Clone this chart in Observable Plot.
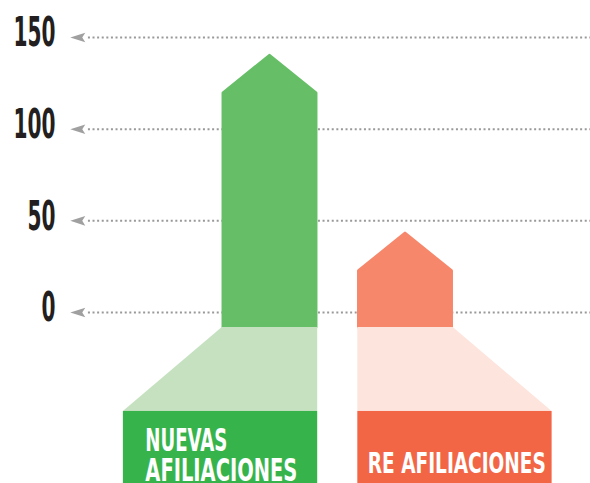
<!DOCTYPE html>
<html><head><meta charset="utf-8">
<script src="https://cdn.jsdelivr.net/npm/d3@7"></script>
<script src="https://cdn.jsdelivr.net/npm/@observablehq/plot@0.6"></script>
<style>body{margin:0;background:#fff}#chart svg{display:block}</style>
</head><body>
<div id="chart"></div>
<script>
// ---- data ----
const categories = ["NUEVAS\nAFILIACIONES", "RE AFILIACIONES"];
const values = [140, 43];
const yTicks = [0, 50, 100, 150];

// ---- styles ----
const barColors = ["#66be67", "#f7876b"];
const funnelColors = ["#c5e1c0", "#fde4dd"];
const boxColors = ["#36b44b", "#f26646"];
const flareDir = [-1, 1];
const FONT = "'Liberation Sans Narrow','DejaVu Sans Condensed','DejaVu Sans',sans-serif";

// ---- layout (x in category slots, y in value units) ----
const L = {
  half: 0.343, funnelHalf: 0.352, head: 20.5,
  barBase: -8.2, funnelBase: -54, boxBase: -93.3, flare: 0.73,
  axisX: -1.583, arrowX: -1.415, ruleX1: -1.34, ruleX2: 2.37,
  labelBaseline: [-92, -87.3], labelSize: [32, 28], labelPad: [0.162, 0.074],
  textWidth: {"NUEVAS": 82, "AFILIACIONES": 152, "RE AFILIACIONES": 178, "150": 42}
};

const rows = categories.map((c, i) => ({cat: c, i, value: values[i]}));

const boxLeft = i => i - L.funnelHalf + (flareDir[i] < 0 ? -L.flare : 0);
const boxRight = i => i + L.funnelHalf + (flareDir[i] > 0 ? L.flare : 0);

const barPts = rows.flatMap(r => [
  {i: r.i, x: r.i - L.half, y1: L.barBase, y2: r.value - L.head},
  {i: r.i, x: r.i, y1: L.barBase, y2: r.value},
  {i: r.i, x: r.i + L.half, y1: L.barBase, y2: r.value - L.head}
]);
const funnelPts = rows.flatMap(r => [
  {i: r.i, y: L.barBase, x1: r.i - L.funnelHalf, x2: r.i + L.funnelHalf},
  {i: r.i, y: L.funnelBase, x1: boxLeft(r.i), x2: boxRight(r.i)}
]);
const boxes = rows.map(r => ({i: r.i, x1: boxLeft(r.i), x2: boxRight(r.i)}));

const arrowSymbol = {
  draw(ctx) {
    ctx.moveTo(-8, 0);
    ctx.lineTo(7, -4.8);
    ctx.lineTo(4, 0);
    ctx.lineTo(7, 4.8);
    ctx.closePath();
  }
};

const chart = Plot.plot({
  width: 590, height: 483, margin: 0,
  x: {domain: [-269.5 / 135.5, 320.5 / 135.5], axis: null},
  y: {domain: [-93.3, 170.2], axis: null},
  marks: [
    Plot.ruleY(yTicks, {y: d => d, x1: L.ruleX1, x2: L.ruleX2, stroke: "#999999", strokeWidth: 2, strokeDasharray: "2,2.6"}),
    Plot.dot(yTicks, {y: d => d, x: L.arrowX, symbol: arrowSymbol, fill: "#a0a0a0", stroke: "none"}),
    Plot.text(yTicks, {y: d => d, x: L.axisX, text: d => String(d), textAnchor: "end", lineAnchor: "middle", dy: -4,
      fontSize: 40, fontWeight: "bold", fontFamily: FONT, fill: "#231f20"}),
    Plot.areaY(barPts, {x: "x", y1: "y1", y2: "y2", z: "i", fill: d => barColors[d.i], stroke: d => barColors[d.i],
      strokeWidth: 3, strokeLinejoin: "round", curve: "linear"}),
    Plot.areaX(funnelPts, {y: "y", x1: "x1", x2: "x2", z: "i", fill: d => funnelColors[d.i], curve: "linear"}),
    Plot.rect(boxes, {x1: "x1", x2: "x2", y1: L.funnelBase, y2: L.boxBase, fill: d => boxColors[d.i]}),
    Plot.text(rows, {x: d => boxLeft(d.i) + L.labelPad[d.i], y: d => L.labelBaseline[d.i], text: "cat",
      textAnchor: "start", lineAnchor: "bottom", lineHeight: 0.94, fontSize: d => L.labelSize[d.i],
      fontWeight: "bold", fontFamily: FONT, fill: "white"})
  ]
});
document.getElementById("chart").append(chart);

// condense text horizontally to mimic the narrow display face
function parts(t) { const s = t.querySelectorAll("tspan"); return s.length ? [...s] : [t]; }
function squeeze(p, k) {
  const w = p.getComputedTextLength();
  p.setAttribute("textLength", w * k);
  p.setAttribute("lengthAdjust", "spacingAndGlyphs");
}
const allTexts = [...chart.querySelectorAll("text")];
const tickTexts = allTexts.filter(t => yTicks.map(String).includes(t.textContent.trim()));
const catTexts = allTexts.filter(t => !tickTexts.includes(t));
const t150 = tickTexts.find(t => t.textContent.trim() === "150");
const ka = t150 ? L.textWidth["150"] / t150.getComputedTextLength() : 0.6;
tickTexts.forEach(t => squeeze(t, ka));
catTexts.forEach(t => parts(t).forEach(p => {
  const target = L.textWidth[p.textContent.trim()];
  squeeze(p, target ? target / p.getComputedTextLength() : 0.6);
}));
</script>
</body></html>
